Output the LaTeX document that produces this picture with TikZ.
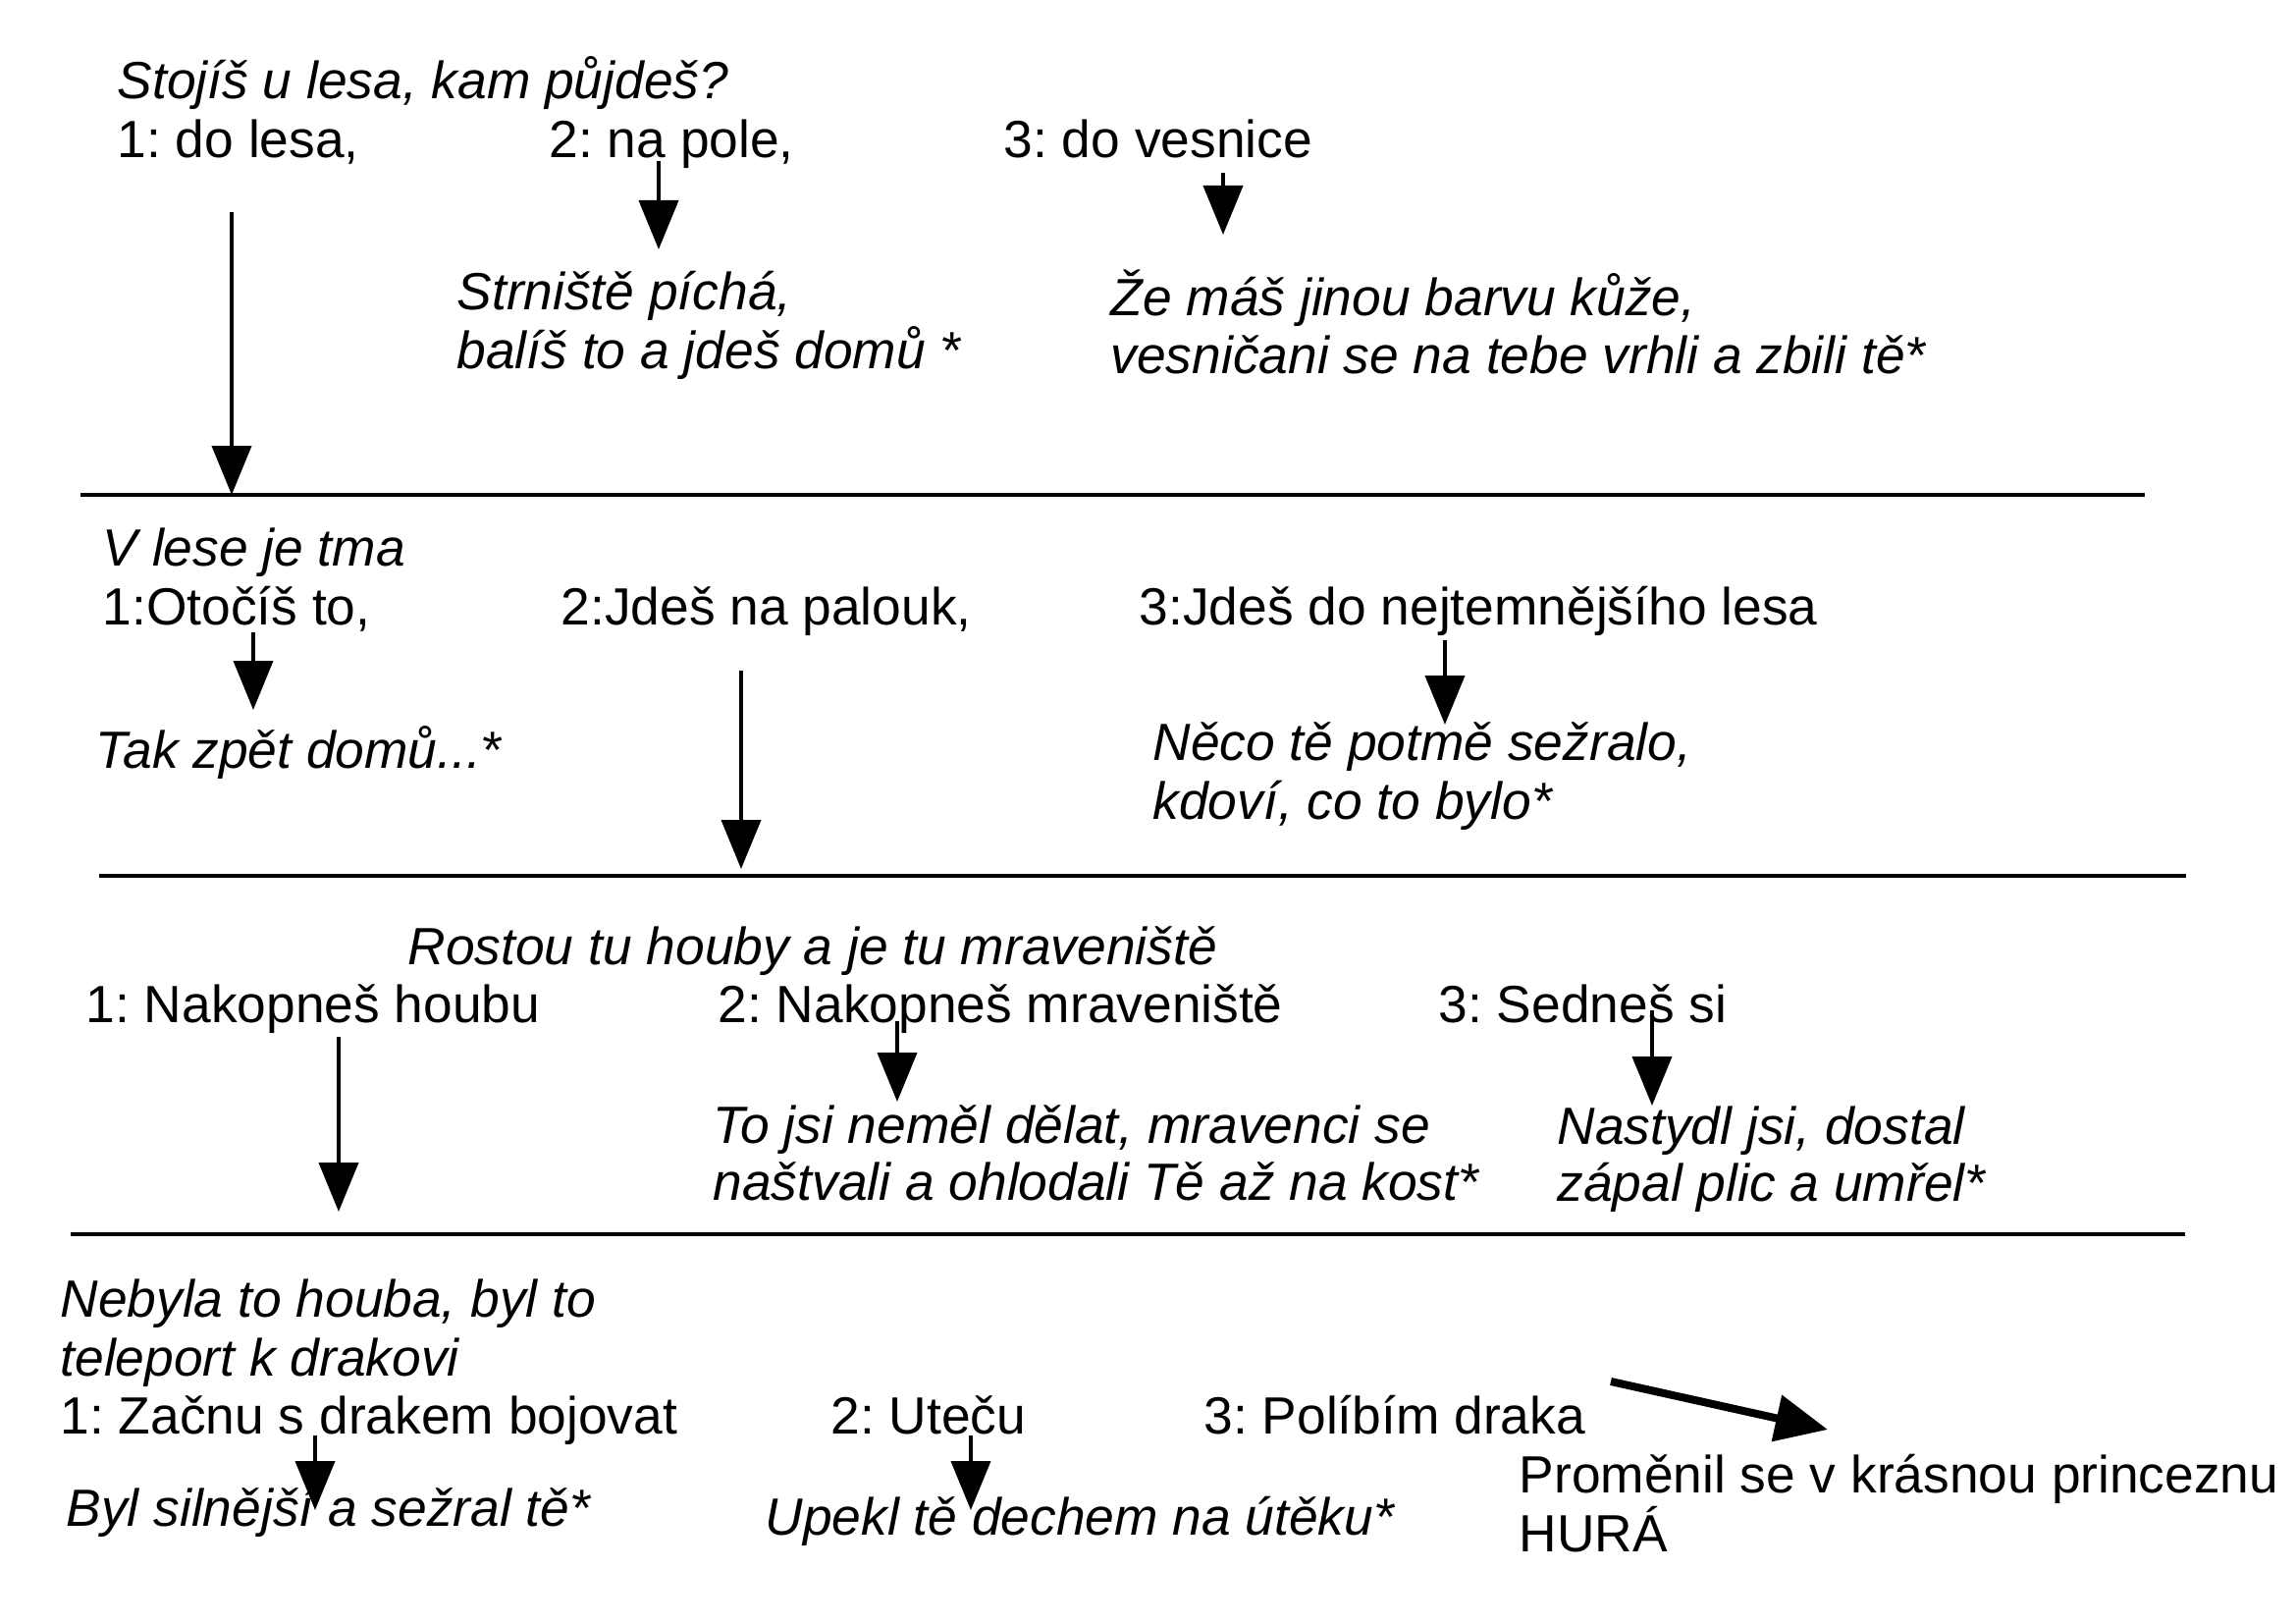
\documentclass[tikz,border=0pt]{standalone}
\usepackage{fontspec}
\setmainfont{Liberation Sans}
\usetikzlibrary{arrows.meta}
\frenchspacing
\begin{document}
\begin{tikzpicture}[x=0.3pt,y=-0.3pt,
  txt/.style={anchor=base west,inner sep=0pt,font=\fontsize{16}{18}\selectfont\frenchspacing},
  itx/.style={anchor=base west,inner sep=0pt,font=\fontsize{16}{18}\selectfont\itshape\frenchspacing},
  arr/.style={-{Triangle[length=15pt,width=12pt]},line width=1.2pt},
  bigarr/.style={-{Triangle[length=16pt,width=14pt]},line width=2.4pt},
  sep/.style={line width=1pt}]
\path[use as bounding box] (0,0) rectangle (2339,1654);
% ---- level 1
\node[itx] (q1) at (119,101) {Stojíš u lesa, kam půjdeš?};
\node[txt] (o11) at (119,161) {1: do lesa,};
\node[txt] (o12) at (559,161) {2: na pole,};
\node[txt] (o13) at (1022,161) {3: do vesnice};
\node[itx] (r12a) at (465,316) {Strniště píchá,};
\node[itx] (r12b) at (465,376) {balíš to a jdeš domů *};
\node[itx] (r13a) at (1131,322) {Že máš jinou barvu kůže,};
\node[itx] (r13b) at (1131,380) {vesničani se na tebe vrhli a zbili tě*};
\coordinate (a1s) at (236,216); \coordinate (a1e) at (236,504);
\coordinate (a2s) at (671,164); \coordinate (a2e) at (671,254);
\coordinate (a3s) at (1246,176); \coordinate (a3e) at (1246,239);
\draw[arr] (a1s) -- (a1e);
\draw[arr] (a2s) -- (a2e);
\draw[arr] (a3s) -- (a3e);
\coordinate (l1a) at (82,504); \coordinate (l1b) at (2185,504);
\draw[sep] (l1a) -- (l1b);
% ---- level 2
\node[itx] (q2) at (104,577) {V lese je tma};
\node[txt] (o21) at (104,637) {1:Otočíš to,};
\node[txt] (o22) at (571,637) {2:Jdeš na palouk,};
\node[txt] (o23) at (1160,637) {3:Jdeš do nejtemnějšího lesa};
\node[itx] (r21) at (97,782) {Tak zpět domů...*};
\node[itx] (r23a) at (1174,774) {Něco tě potmě sežralo,};
\node[itx] (r23b) at (1174,834) {kdoví, co to bylo*};
\coordinate (b1s) at (258,644); \coordinate (b1e) at (258,723);
\coordinate (b2s) at (755,683); \coordinate (b2e) at (755,885);
\coordinate (b3s) at (1472,652); \coordinate (b3e) at (1472,738);
\draw[arr] (b1s) -- (b1e);
\draw[arr] (b2s) -- (b2e);
\draw[arr] (b3s) -- (b3e);
\coordinate (l2a) at (101,892); \coordinate (l2b) at (2227,892);
\draw[sep] (l2a) -- (l2b);
% ---- level 3
\node[itx] (q3) at (415,982) {Rostou tu houby a je tu mraveniště};
\node[txt] (o31) at (87,1041) {1: Nakopneš houbu};
\node[txt] (o32) at (731,1041) {2: Nakopneš mraveniště};
\node[txt] (o33) at (1465,1041) {3: Sedneš si};
\node[itx] (r32a) at (726,1164) {To jsi neměl dělat, mravenci se};
\node[itx] (r32b) at (726,1222) {naštvali a ohlodali Tě až na kost*};
\node[itx] (r33a) at (1586,1165) {Nastydl jsi, dostal};
\node[itx] (r33b) at (1586,1223) {zápal plic a umřel*};
\coordinate (c1s) at (345,1056); \coordinate (c1e) at (345,1234);
\coordinate (c2s) at (914,1040); \coordinate (c2e) at (914,1122);
\coordinate (c3s) at (1683,1029); \coordinate (c3e) at (1683,1126);
\draw[arr] (c1s) -- (c1e);
\draw[arr] (c2s) -- (c2e);
\draw[arr] (c3s) -- (c3e);
\coordinate (l3a) at (72,1257); \coordinate (l3b) at (2226,1257);
\draw[sep] (l3a) -- (l3b);
% ---- level 4
\node[itx] (q4a) at (61,1341) {Nebyla to houba, byl to};
\node[itx] (q4b) at (61,1401) {teleport k drakovi};
\node[txt] (o41) at (61,1460) {1: Začnu s drakem bojovat};
\node[txt] (o42) at (846,1460) {2: Uteču};
\node[txt] (o43) at (1226,1460) {3: Políbím draka};
\node[itx] (r41) at (67,1554) {Byl silnější a sežral tě*};
\node[itx] (r42) at (779,1563) {Upekl tě dechem na útěku*};
\node[txt] (r43a) at (1547,1520) {Proměnil se v krásnou princeznu};
\node[txt] (r43b) at (1547,1580) {HURÁ};
\coordinate (d1s) at (321,1462); \coordinate (d1e) at (321,1538);
\coordinate (d2s) at (989,1462); \coordinate (d2e) at (989,1538);
\coordinate (d3s) at (1641,1407); \coordinate (d3e) at (1862,1456);
\draw[arr] (d1s) -- (d1e);
\draw[arr] (d2s) -- (d2e);
\draw[bigarr] (d3s) -- (d3e);
\end{tikzpicture}
\end{document}
